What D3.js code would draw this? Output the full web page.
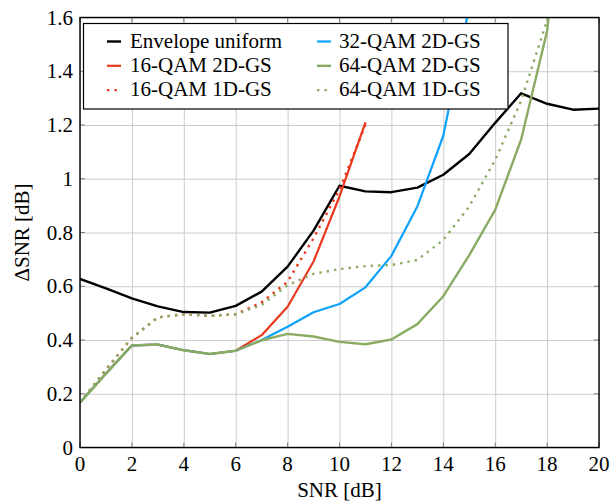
<!DOCTYPE html>
<html>
<head>
<meta charset="utf-8">
<script src="https://cdn.jsdelivr.net/npm/d3@7"></script>
<style>
  body { margin: 0; background: #fff; }
</style>
</head>
<body>
<div id="chart"></div>
<script>
// svg dimensions
var svgWidth = 612;
var svgHeight = 502;

// plot box
var plot = { left: 80, right: 599, top: 17.5, bottom: 447.5 };

// data (SNR in dB)
var snr = [0, 1, 2, 3, 4, 5, 6, 7, 8, 9, 10, 11, 12, 13, 14, 15, 16, 17, 18, 19, 20];
var envelopeUniform = [0.627, 0.592, 0.555, 0.525, 0.504, 0.502, 0.527, 0.58, 0.673, 0.807, 0.974,
  0.953, 0.950, 0.967, 1.015, 1.092, 1.208, 1.318, 1.279, 1.257, 1.261];
var qam16_2d = [0.167, 0.275, 0.38, 0.383, 0.362, 0.348, 0.36, 0.418, 0.524, 0.692, 0.934, 1.21];
var qam16_1d = [0.167, 0.29, 0.408, 0.484, 0.496, 0.49, 0.496, 0.54, 0.617, 0.779, 0.96, 1.2];
var qam32_2d = [0.167, 0.275, 0.38, 0.383, 0.362, 0.348, 0.36, 0.40, 0.449, 0.503, 0.534, 0.596,
  0.713, 0.897, 1.16, 1.64];
var qam64_2d = [0.167, 0.275, 0.38, 0.383, 0.362, 0.348, 0.36, 0.399, 0.423, 0.413, 0.393, 0.384,
  0.402, 0.459, 0.563, 0.716, 0.884, 1.146, 1.55, 2.4];
var qam64_1d = [0.167, 0.29, 0.408, 0.484, 0.496, 0.49, 0.496, 0.53, 0.604, 0.646, 0.664, 0.675,
  0.679, 0.698, 0.772, 0.897, 1.07, 1.29, 1.59, 2.3];

var xTicks = [0, 2, 4, 6, 8, 10, 12, 14, 16, 18, 20];
var yTicks = [0, 0.2, 0.4, 0.6, 0.8, 1, 1.2, 1.4, 1.6];
var yTickLabels = ["0", "0.2", "0.4", "0.6", "0.8", "1", "1.2", "1.4", "1.6"];

var series = [
  { name: "Envelope uniform", values: envelopeUniform, color: "#000000", dash: null, width: 2.4 },
  { name: "16-QAM 2D-GS", values: qam16_2d, color: "#e8381e", dash: null, width: 2.2 },
  { name: "16-QAM 1D-GS", values: qam16_1d, color: "#e8381e", dash: "2.4,5", width: 2.4 },
  { name: "32-QAM 2D-GS", values: qam32_2d, color: "#0ca2fb", dash: null, width: 2.2 },
  { name: "64-QAM 2D-GS", values: qam64_2d, color: "#8aab63", dash: null, width: 2.4 },
  { name: "64-QAM 1D-GS", values: qam64_1d, color: "#8aab63", dash: "2.4,5", width: 2.4 }
];

var serif = "'Liberation Serif'";

var svg = d3.select("#chart")
  .append("svg")
  .attr("width", svgWidth)
  .attr("height", svgHeight);

var xScale = d3.scaleLinear().domain([0, 20]).range([plot.left, plot.right]);
var yScale = d3.scaleLinear().domain([0, 1.6]).range([plot.bottom, plot.top]);

// grid
svg.append("g")
  .attr("transform", `translate(0, ${plot.bottom})`)
  .call(d3.axisBottom(xScale).tickValues(xTicks).tickSize(-(plot.bottom - plot.top)).tickFormat(""))
  .call(g => g.select(".domain").remove())
  .call(g => g.selectAll("line").attr("stroke", "#cbcbcb").attr("stroke-width", 1));

svg.append("g")
  .attr("transform", `translate(${plot.left}, 0)`)
  .call(d3.axisLeft(yScale).tickValues(yTicks).tickSize(-(plot.right - plot.left)).tickFormat(""))
  .call(g => g.select(".domain").remove())
  .call(g => g.selectAll("line").attr("stroke", "#cbcbcb").attr("stroke-width", 1));

// small dark tick marks inside the frame
var tickLen = 5;
var marks = svg.append("g").attr("stroke", "#808080").attr("stroke-width", 1);
xTicks.forEach(function(t) {
  marks.append("line").attr("x1", xScale(t)).attr("x2", xScale(t))
    .attr("y1", plot.bottom).attr("y2", plot.bottom - tickLen);
  marks.append("line").attr("x1", xScale(t)).attr("x2", xScale(t))
    .attr("y1", plot.top).attr("y2", plot.top + tickLen);
});
yTicks.forEach(function(t) {
  marks.append("line").attr("x1", plot.left).attr("x2", plot.left + tickLen)
    .attr("y1", yScale(t)).attr("y2", yScale(t));
  marks.append("line").attr("x1", plot.right).attr("x2", plot.right - tickLen)
    .attr("y1", yScale(t)).attr("y2", yScale(t));
});

// clip for lines
svg.append("clipPath").attr("id", "clip")
  .append("rect")
  .attr("x", plot.left).attr("y", plot.top)
  .attr("width", plot.right - plot.left).attr("height", plot.bottom - plot.top);

var line = d3.line()
  .x((d, i) => xScale(snr[i]))
  .y(d => yScale(d));

var lines = svg.append("g").attr("clip-path", "url(#clip)");
series.forEach(function(s) {
  lines.append("path")
    .datum(s.values)
    .attr("d", line)
    .attr("fill", "none")
    .attr("stroke", s.color)
    .attr("stroke-width", s.width)
    .attr("stroke-dasharray", s.dash)
    .attr("stroke-linejoin", "round");
});

// frame
svg.append("rect")
  .attr("x", plot.left).attr("y", plot.top)
  .attr("width", plot.right - plot.left).attr("height", plot.bottom - plot.top)
  .attr("fill", "none").attr("stroke", "#000").attr("stroke-width", 1.4);

// tick labels
svg.append("g").selectAll("text")
  .data(xTicks)
  .enter()
  .append("text")
  .attr("x", d => xScale(d))
  .attr("y", 471)
  .attr("text-anchor", "middle")
  .style("font-family", serif)
  .style("font-size", "21px")
  .text(d => d);

svg.append("g").selectAll("text")
  .data(yTicks)
  .enter()
  .append("text")
  .attr("x", 73)
  .attr("y", d => yScale(d) + 7)
  .attr("text-anchor", "end")
  .style("font-family", serif)
  .style("font-size", "21px")
  .text((d, i) => yTickLabels[i]);

// axis titles
svg.append("text")
  .attr("x", (plot.left + plot.right) / 2)
  .attr("y", 497)
  .attr("text-anchor", "middle")
  .style("font-family", serif)
  .style("font-size", "21px")
  .text("SNR [dB]");

svg.append("text")
  .attr("transform", `translate(29, ${(plot.top + plot.bottom) / 2}) rotate(-90)`)
  .attr("text-anchor", "middle")
  .style("font-family", serif)
  .style("font-size", "21px")
  .text("ΔSNR [dB]");

// legend
var legend = svg.append("g");
legend.append("rect")
  .attr("x", 83.5).attr("y", 23.5)
  .attr("width", 424.5).attr("height", 85.5)
  .attr("fill", "#fff").attr("stroke", "#000").attr("stroke-width", 1.2);

var cols = [{ lx: 107, tx: 130 }, { lx: 317, tx: 339 }];
series.forEach(function(s, i) {
  var col = cols[i < 3 ? 0 : 1];
  var base = 47.5 + (i % 3) * 24.3;
  legend.append("line")
    .attr("x1", col.lx).attr("x2", col.lx + 14)
    .attr("y1", base - 6).attr("y2", base - 6)
    .attr("stroke", s.color)
    .attr("stroke-width", s.width)
    .attr("stroke-dasharray", s.dash);
  legend.append("text")
    .attr("x", col.tx)
    .attr("y", base)
    .style("font-family", serif)
    .style("font-size", "21px")
    .text(s.name);
});
</script>
</body>
</html>
